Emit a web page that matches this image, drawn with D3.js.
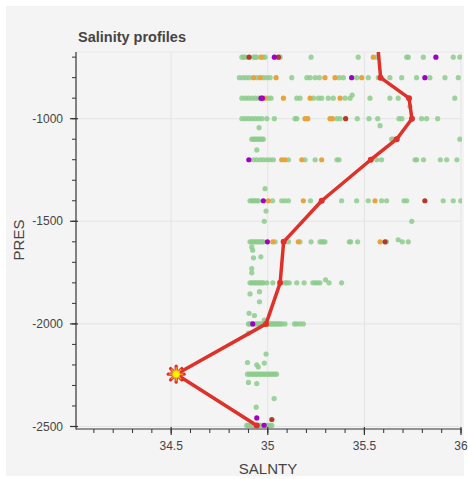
<!DOCTYPE html>
<html lang="en">
<head>
<meta charset="UTF-8">
<title>Salinity profiles</title>
<script src="https://d3js.org/d3.v7.min.js"></script>
<style>
  body { margin: 0; background: #fff; }
  text { font-family: "Liberation Sans", Arial, Helvetica, sans-serif; fill: #444; }
</style>
</head>
<body>
<script>
// tick values
const xTicks = [34.5, 35, 35.5, 36];
const yTicks = [-1000, -1500, -2000, -2500];

// mean profile (red line)
const profileSal = [35.565, 35.584, 35.731, 35.746, 35.667, 35.533, 35.279, 35.082, 35.064, 34.991, 34.526, 34.943];
const profilePres = [-600, -800, -900, -1000, -1100, -1200, -1400, -1600, -1800, -2000, -2245, -2495];
const starSal = 34.526, starPres = -2245;

// green casts, grouped by pressure level
const greenRows = [
  [-700, [34.866, 34.875, 34.883, 34.926, 34.935, 34.943, 34.975, 34.986, 35.064, 35.224, 35.468, 35.564, 35.719, 35.727, 35.805, 35.960, 35.994]],
  [-800, [34.853, 34.871, 34.888, 34.905, 34.943, 34.977, 34.995, 35.012, 35.124, 35.202, 35.219, 35.245, 35.267, 35.370, 35.391, 35.460, 35.520, 35.572, 35.632, 35.693, 35.770, 35.839, 35.917, 35.986]],
  [-900, [34.866, 34.883, 34.900, 34.917, 34.934, 34.951, 35.003, 35.017, 35.150, 35.167, 35.236, 35.262, 35.279, 35.313, 35.339, 35.400, 35.426, 35.529, 35.632, 35.675, 35.968]],
  [-1000, [34.866, 34.883, 34.900, 34.917, 34.934, 34.951, 34.969, 34.995, 35.034, 35.141, 35.150, 35.357, 35.374, 35.463, 35.524, 35.569, 35.679, 35.694, 35.796, 35.822, 35.879]],
  [-1100, [34.917, 34.926, 34.934, 34.943, 34.951, 34.960, 34.969, 34.977, 35.641, 35.650, 35.667, 35.994]],
  [-1200, [34.926, 34.943, 34.961, 34.977, 34.995, 35.012, 35.029, 35.107, 35.193, 35.245, 35.358, 35.369, 35.564, 35.589, 35.762, 35.771, 35.806, 35.893, 35.926, 35.979]],
  [-1400, [34.908, 34.917, 34.926, 34.934, 34.943, 34.951, 35.025, 35.072, 35.089, 35.107, 35.221, 35.279, 35.382, 35.460, 35.520, 35.589, 35.615, 35.705, 35.719, 35.908, 35.960, 35.999]],
  [-1600, [34.908, 34.917, 34.926, 34.934, 34.943, 34.951, 34.960, 34.969, 34.977, 35.038, 35.107, 35.167, 35.224, 35.270, 35.279, 35.287, 35.296, 35.422, 35.429, 35.465, 35.614, 35.696, 35.727]],
  [-1800, [34.908, 34.917, 34.926, 34.934, 34.943, 34.951, 34.960, 34.969, 34.977, 34.995, 35.026, 35.089, 35.098, 35.111, 35.150, 35.188, 35.233, 35.245, 35.257, 35.270, 35.317, 35.382]],
  [-2000, [34.900, 34.908, 34.917, 34.931, 34.943, 34.951, 34.960, 34.969, 35.003, 35.012, 35.020, 35.029, 35.038, 35.046, 35.055, 35.064, 35.072, 35.089, 35.138, 35.150, 35.167, 35.184]],
  [-2245, [34.895, 34.905, 34.915, 34.925, 34.935, 34.945, 34.955, 34.965, 34.975, 34.985, 34.995, 35.005, 35.015, 35.025, 35.035, 35.045]],
  [-2495, [34.891, 34.900, 34.910, 34.920, 34.930, 34.950, 34.960, 34.970, 34.990, 35.000, 35.012, 35.021]]
];
// green casts between levels [salinity, pressure]
const greenLoose = [
  [35.437, -885], [35.736, -940], [34.955, -1044], [35.581, -1034], [34.943, -1152], [34.986, -1341],
  [34.991, -1450], [34.982, -1500], [35.745, -1500], [35.675, -1590],
  [34.917, -1625], [34.922, -1641], [34.926, -1678], [34.964, -1673], [34.917, -1730], [34.917, -1751],
  [35.299, -1785], [34.908, -1854], [34.957, -1843], [34.957, -1892], [34.903, -1948], [34.931, -1959], [34.982, -1981],
  [34.900, -2045], [34.991, -2147], [34.895, -2188], [34.943, -2199], [34.951, -2210], [34.982, -2191],
  [34.900, -2285], [34.943, -2291], [35.033, -2364], [34.940, -2406]
];
const orangePts = [
  [34.965, -700], [35.546, -700],
  [34.926, -800], [34.961, -800], [35.043, -800], [35.296, -800], [35.348, -800], [35.486, -800],
  [34.986, -900], [35.081, -900], [35.219, -900], [35.374, -900],
  [35.193, -1000], [35.207, -1000], [35.322, -1000], [35.334, -1000],
  [35.072, -1200], [35.089, -1200], [35.176, -1200], [35.279, -1200],
  [35.003, -1400], [35.184, -1400], [35.555, -1400],
  [35.026, -1600], [35.158, -1600], [35.581, -1600]
];
const purplePts = [
  [35.034, -700], [35.870, -700], [35.434, -800], [35.813, -800], [34.965, -900], [34.972, -900],
  [34.902, -1200], [34.977, -1400], [34.998, -1600], [34.922, -2000], [34.943, -2458], [34.981, -2494]
];
const darkredPts = [
  [34.903, -700], [35.055, -700], [35.403, -1000], [35.813, -1400], [35.607, -1600], [35.021, -2466]
];

const W = 468, H = 479;
const fLeft = 76, fRight = 461, fTop = 52, fBottom = 426.5;

const x = d3.scaleLinear().domain([34.01, 36]).range([fLeft + 0.5, fRight]);
const y = d3.scaleLinear().domain([-2500, -675]).range([fBottom, fTop]);

const svg = d3.select("body").append("svg").attr("width", W).attr("height", H);

svg.append("rect").attr("x", 6).attr("y", 6).attr("width", 458).attr("height", 470).attr("fill", "#f4f4f4");

svg.append("defs").append("clipPath").attr("id", "frame")
  .append("rect").attr("x", fLeft).attr("y", fTop).attr("width", fRight - fLeft + 1).attr("height", fBottom - fTop + 2);

// grid
svg.append("g").selectAll("line").data(xTicks).join("line")
  .attr("x1", d => x(d)).attr("x2", d => x(d)).attr("y1", fTop).attr("y2", fBottom)
  .attr("stroke", "#e4e4e4").attr("stroke-width", 1);
svg.append("g").selectAll("line").data(yTicks).join("line")
  .attr("x1", fLeft).attr("x2", fRight).attr("y1", d => y(d)).attr("y2", d => y(d))
  .attr("stroke", "#e4e4e4").attr("stroke-width", 1);
svg.append("line").attr("x1", fLeft).attr("x2", fRight).attr("y1", fTop).attr("y2", fTop).attr("stroke", "#e8e8e8");

const plot = svg.append("g").attr("clip-path", "url(#frame)");

const greenPts = greenRows.flatMap(([p, list]) => list.map(s => [s, p])).concat(greenLoose);

function dots(data, color) {
  plot.append("g").selectAll("circle").data(data).join("circle")
    .attr("cx", d => x(d[0])).attr("cy", d => y(d[1])).attr("r", 2.6)
    .attr("fill", color);
}
dots(greenPts, "rgba(140,203,140,0.85)");
dots(orangePts, "#e8a33a");
dots(darkredPts, "#b23a26");
dots(purplePts, "#a100c4");

// profile line
const prof = profileSal.map((s, i) => [s, profilePres[i]]);
plot.append("path").datum(prof)
  .attr("d", d3.line().x(d => x(d[0])).y(d => y(d[1])))
  .attr("fill", "none").attr("stroke", "#e0302a").attr("stroke-width", 3.5).attr("stroke-linejoin", "round");
plot.append("g").selectAll("circle").data(prof.filter(d => d[1] !== starPres)).join("circle")
  .attr("cx", d => x(d[0])).attr("cy", d => y(d[1])).attr("r", 3)
  .attr("fill", "#e0302a");

// star marker
const sx = x(starSal), sy = y(starPres);
const star = svg.append("g").attr("transform", `translate(${sx},${sy})`);
const spokes = d3.range(8).map(i => i * Math.PI / 4);
star.selectAll("line.o").data(spokes).join("line").attr("class", "o")
  .attr("x2", a => 8 * Math.cos(a)).attr("y2", a => 8 * Math.sin(a))
  .attr("stroke", "#e0302a").attr("stroke-width", 3.2).attr("stroke-linecap", "round");
star.selectAll("line.i").data(spokes).join("line").attr("class", "i")
  .attr("x2", a => 7 * Math.cos(a)).attr("y2", a => 7 * Math.sin(a))
  .attr("stroke", "#f5a623").attr("stroke-width", 1.3);
star.append("circle").attr("r", 3.8).attr("fill", "#f5f500").attr("stroke", "#f0a020").attr("stroke-width", 0.8);

// axes
const xAxis = svg.append("g").attr("transform", `translate(0,${fBottom + 2.5})`);
xAxis.append("line").attr("x1", fLeft).attr("x2", fRight + 0.5).attr("stroke", "#333").attr("stroke-width", 1.2);
const xMinor = d3.range(34.1, 36.001, 0.1);
xAxis.selectAll("line.m").data(xMinor).join("line").attr("class", "m")
  .attr("x1", d => x(d)).attr("x2", d => x(d)).attr("y1", 0).attr("y2", 4)
  .attr("stroke", "#333");
xAxis.selectAll("line.M").data(xTicks).join("line").attr("class", "M")
  .attr("x1", d => x(d)).attr("x2", d => x(d)).attr("y1", -2).attr("y2", 6)
  .attr("stroke", "#333").attr("stroke-width", 1.2);
xAxis.selectAll("text").data(xTicks).join("text")
  .attr("x", d => x(d)).attr("y", 21).attr("text-anchor", "middle").attr("font-size", 12)
  .text(d => d3.format("~g")(d));

const yAxis = svg.append("g").attr("transform", `translate(${fLeft},0)`);
yAxis.append("line").attr("y1", fTop).attr("y2", fBottom + 3).attr("stroke", "#333").attr("stroke-width", 1.2);
const yMinor = d3.range(-2500, -675, 100);
yAxis.selectAll("line.m").data(yMinor).join("line").attr("class", "m")
  .attr("x1", -4).attr("x2", 0).attr("y1", d => y(d)).attr("y2", d => y(d))
  .attr("stroke", "#333");
yAxis.selectAll("line.M").data(yTicks).join("line").attr("class", "M")
  .attr("x1", -6).attr("x2", 2).attr("y1", d => y(d)).attr("y2", d => y(d))
  .attr("stroke", "#333").attr("stroke-width", 1.2);
yAxis.selectAll("text").data(yTicks).join("text")
  .attr("x", -13).attr("y", d => y(d) + 4).attr("text-anchor", "end").attr("font-size", 12)
  .text(d => d);

// labels
svg.append("text").attr("x", 268).attr("y", 474).attr("text-anchor", "middle").attr("font-size", 15).text("SALNTY");
svg.append("text").attr("transform", "translate(24,240) rotate(-90)").attr("text-anchor", "middle").attr("font-size", 15).text("PRES");
svg.append("text").attr("x", 78).attr("y", 42).attr("font-size", 14.5).attr("font-weight", "bold").text("Salinity profiles");
</script>
</body>
</html>
